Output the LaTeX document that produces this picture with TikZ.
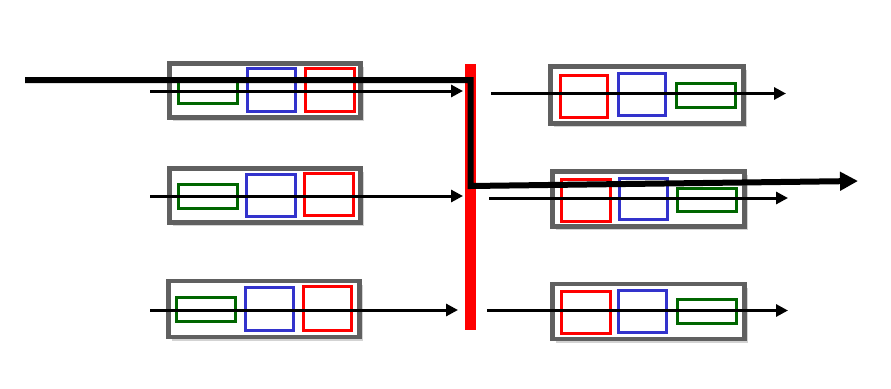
\documentclass[tikz,border=0pt]{standalone}
\usepackage{tikz}
\usetikzlibrary{arrows.meta, positioning, shadows}

\definecolor{portgray}{RGB}{96,96,96}
\definecolor{pktred}{RGB}{255,0,0}
\definecolor{pktblue}{RGB}{51,51,204}
\definecolor{pktgreen}{RGB}{0,102,0}

\begin{document}
\begin{tikzpicture}[x=1pt, y=-1pt,
    port/.style={draw=portgray, line width=4.2pt, fill=white, inner sep=0pt,
      drop shadow={shadow xshift=3.5pt, shadow yshift=-3.5pt, opacity=0.35}},
    pkt/.style={draw=#1, line width=3pt, inner sep=0pt},
    flow/.style={line width=3pt, -{Triangle[length=12pt, width=12pt]}},
    route/.style={line width=6pt, -{Triangle[length=18pt, width=18pt]}}]
    \useasboundingbox (0,0) rectangle (891,388);

    % Input ports
    \node[port, minimum width=191pt, minimum height=54pt] (in1) at (265,90.5) {};
    \node[pkt=pktgreen, minimum width=59pt, minimum height=24pt] (in1g) at (207.5,91) {};
    \node[pkt=pktblue, minimum width=48pt, minimum height=43pt] (in1b) at (271,90) {};
    \node[pkt=pktred, minimum width=49pt, minimum height=43pt] (in1r) at (329.5,89.5) {};

    \node[port, minimum width=191pt, minimum height=54pt] (in2) at (265,195.5) {};
    \node[pkt=pktgreen, minimum width=59pt, minimum height=24pt] (in2g) at (207.5,196) {};
    \node[pkt=pktblue, minimum width=49pt, minimum height=42pt] (in2b) at (270.5,195) {};
    \node[pkt=pktred, minimum width=49pt, minimum height=42pt] (in2r) at (328.5,194) {};

    \node[port, minimum width=191pt, minimum height=56pt] (in3) at (264,309) {};
    \node[pkt=pktgreen, minimum width=59pt, minimum height=24pt] (in3g) at (205.5,309.5) {};
    \node[pkt=pktblue, minimum width=48pt, minimum height=43pt] (in3b) at (269,308.5) {};
    \node[pkt=pktred, minimum width=48pt, minimum height=44pt] (in3r) at (327.5,308) {};

    % Output ports
    \node[port, minimum width=193pt, minimum height=57pt] (out1) at (647,95) {};
    \node[pkt=pktred, minimum width=47pt, minimum height=42pt] (out1r) at (583.5,96) {};
    \node[pkt=pktblue, minimum width=47pt, minimum height=42pt] (out1b) at (642,94.5) {};
    \node[pkt=pktgreen, minimum width=59pt, minimum height=24pt] (out1g) at (705.5,95.5) {};

    \node[port, minimum width=192pt, minimum height=55pt] (out2) at (648.5,199) {};
    \node[pkt=pktred, minimum width=49pt, minimum height=42pt] (out2r) at (585.5,200) {};
    \node[pkt=pktblue, minimum width=48pt, minimum height=41pt] (out2b) at (643,198.5) {};
    \node[pkt=pktgreen, minimum width=59pt, minimum height=23pt] (out2g) at (706.5,199.5) {};

    \node[port, minimum width=192pt, minimum height=55pt] (out3) at (648.5,311.5) {};
    \node[pkt=pktred, minimum width=49pt, minimum height=42pt] (out3r) at (585.5,312) {};
    \node[pkt=pktblue, minimum width=48pt, minimum height=42pt] (out3b) at (642.5,311) {};
    \node[pkt=pktgreen, minimum width=59pt, minimum height=24pt] (out3g) at (706.5,311.5) {};

    % Switch fabric
    \node[fill=red, inner sep=0pt, minimum width=11.5pt, minimum height=266pt] (bar) at (470.5,197) {};

    % Queued flows
    \coordinate (a1) at (150,91);   \coordinate (b1) at (463,91);
    \coordinate (a2) at (150,196);  \coordinate (b2) at (463,196);
    \coordinate (a3) at (150,310);  \coordinate (b3) at (458,310);
    \coordinate (c1) at (491,93.5); \coordinate (d1) at (786,93.5);
    \coordinate (c2) at (489,198);  \coordinate (d2) at (788,198);
    \coordinate (c3) at (487,310.5);\coordinate (d3) at (788,310.5);
    \draw[flow] (a1) -- (b1);
    \draw[flow] (a2) -- (b2);
    \draw[flow] (a3) -- (b3);
    \draw[flow] (c1) -- (d1);
    \draw[flow] (c2) -- (d2);
    \draw[flow] (c3) -- (d3);

    % Path through the fabric
    \coordinate (src) at (25,80);
    \coordinate (turn) at (470.5,186);
    \coordinate (dst) at (858,181);
    \draw[route] (src) -- (src -| turn) -- (turn) -- (dst);
\end{tikzpicture}
\end{document}
